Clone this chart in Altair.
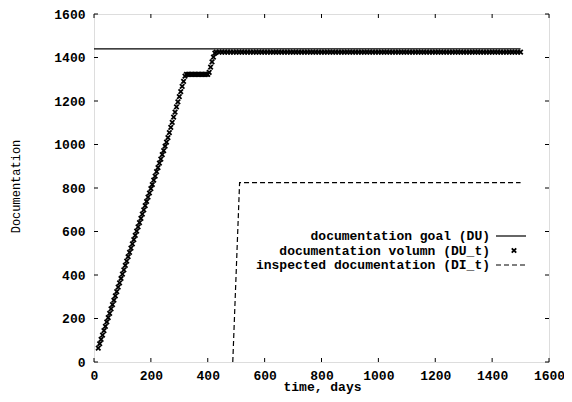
import altair as alt
import pandas as pd

# ---- data ----
goal_days = [0, 1500]
goal_values = [1440, 1440]

du_days = [15, 20, 25, 30, 35, 40, 45, 50, 55, 60, 65, 70, 75, 80, 85, 90, 95, 100,
           105, 110, 115, 120, 125, 130, 135, 140, 145, 150, 155, 160, 165, 170, 175,
           180, 185, 190, 195, 200, 205, 210, 215, 220, 225, 230, 235, 240, 245, 250,
           255, 260, 265, 270, 275, 280, 285, 290, 295, 300, 305, 310, 315, 320,
           325, 330, 335, 340, 345, 350, 355, 360, 365, 370, 375, 380, 385, 390, 395, 400,
           405, 410, 415, 420, 425,
           430, 440, 450, 460, 470, 480, 490, 500, 510, 520, 530, 540, 550, 560, 570,
           580, 590, 600, 610, 620, 630, 640, 650, 660, 670, 680, 690, 700, 710, 720,
           730, 740, 750, 760, 770, 780, 790, 800, 810, 820, 830, 840, 850, 860, 870,
           880, 890, 900, 910, 920, 930, 940, 950, 960, 970, 980, 990, 1000, 1010, 1020,
           1030, 1040, 1050, 1060, 1070, 1080, 1090, 1100, 1110, 1120, 1130, 1140, 1150,
           1160, 1170, 1180, 1190, 1200, 1210, 1220, 1230, 1240, 1250, 1260, 1270, 1280,
           1290, 1300, 1310, 1320, 1330, 1340, 1350, 1360, 1370, 1380, 1390, 1400, 1410,
           1420, 1430, 1440, 1450, 1460, 1470, 1480, 1490, 1500]
du_values = [64, 84, 104, 124, 144, 164, 184, 204, 224, 244, 264, 284, 304, 324, 344, 364, 384, 404,
             424, 444, 464, 484, 504, 524, 543, 563, 582, 602, 621, 641, 660, 680, 699,
             719, 738, 758, 777, 797, 816, 836, 855, 875, 894, 914, 933, 953, 972, 992,
             1011, 1032, 1055, 1079, 1102, 1126, 1149, 1173, 1196, 1220, 1243, 1267, 1290, 1314,
             1322, 1322, 1322, 1322, 1322, 1322, 1322, 1322, 1322, 1322, 1322, 1322, 1322, 1322, 1322, 1322,
             1332, 1356, 1380, 1402, 1420,
             1425, 1425, 1425, 1425, 1425, 1425, 1425, 1425, 1425, 1425, 1425, 1425, 1425, 1425, 1425,
             1425, 1425, 1425, 1425, 1425, 1425, 1425, 1425, 1425, 1425, 1425, 1425, 1425, 1425, 1425,
             1425, 1425, 1425, 1425, 1425, 1425, 1425, 1425, 1425, 1425, 1425, 1425, 1425, 1425, 1425,
             1425, 1425, 1425, 1425, 1425, 1425, 1425, 1425, 1425, 1425, 1425, 1425, 1425, 1425, 1425,
             1425, 1425, 1425, 1425, 1425, 1425, 1425, 1425, 1425, 1425, 1425, 1425, 1425,
             1425, 1425, 1425, 1425, 1425, 1425, 1425, 1425, 1425, 1425, 1425, 1425, 1425,
             1425, 1425, 1425, 1425, 1425, 1425, 1425, 1425, 1425, 1425, 1425, 1425, 1425,
             1425, 1425, 1425, 1425, 1425, 1425, 1425, 1425, 1425]

di_days = [488, 512, 1500]
di_values = [0, 825, 825]

tick_values = [0, 200, 400, 600, 800, 1000, 1200, 1400, 1600]

legend_labels = ["documentation goal (DU)",
                 "documentation volumn (DU_t)",
                 "inspected documentation (DI_t)"]

FONT = "Liberation Mono"
W, H = 455, 348
CROSS = "M-1,-1L1,1M-1,1L1,-1"

xs = alt.Scale(domain=[0, 1600], nice=False)
ys = alt.Scale(domain=[0, 1600], nice=False)

xaxis = alt.Axis(values=tick_values, format="d", title="time, days", labelFont=FONT, labelFontSize=13,
                 labelFontWeight="bold", labelColor="black", labelPadding=7,
                 titleFont=FONT, titleFontSize=13, titleFontWeight="bold", titleColor="black",
                 titleX=228, titleY=28, titleBaseline="alphabetic", titleAlign="center",
                 ticks=False, domain=False, grid=False, labelFlush=False)
yaxis = alt.Axis(values=tick_values, format="d", title="Documentation", labelFont=FONT, labelFontSize=13,
                 labelFontWeight="bold", labelColor="black", labelPadding=9,
                 titleFont=FONT, titleFontSize=12, titleFontWeight="normal", titleColor="black",
                 titleX=-79, titleY=172, titleBaseline="middle", titleAlign="center", titleAngle=270,
                 ticks=False, domain=False, grid=False, labelFlush=False)


def X(field="day"):
    return alt.X(f"{field}:Q", scale=xs, axis=xaxis)


def Y(field="value"):
    return alt.Y(f"{field}:Q", scale=ys, axis=yaxis)


goal_df = pd.DataFrame({"day": goal_days, "value": goal_values})
du_df = pd.DataFrame({"day": du_days, "value": du_values})
di_df = pd.DataFrame({"day": di_days, "value": di_values})
tx_df = pd.DataFrame({"day": tick_values})
ty_df = pd.DataFrame({"value": tick_values})

goal = alt.Chart(goal_df).mark_line(color="black", strokeWidth=1.2).encode(x=X(), y=Y())
di = alt.Chart(di_df).mark_line(color="black", strokeWidth=1.2, strokeDash=[5, 3]).encode(x=X(), y=Y())
du = alt.Chart(du_df).mark_point(shape=CROSS, filled=False, color="black", strokeWidth=1.8,
                                  size=20, opacity=1).encode(x=X(), y=Y())

tb = alt.Chart(tx_df).mark_rule(color="black", strokeWidth=1).encode(x=X(), y=alt.value(H), y2=alt.value(H - 4))
tt = alt.Chart(tx_df).mark_rule(color="black", strokeWidth=1).encode(x=X(), y=alt.value(0), y2=alt.value(4))
tl = alt.Chart(ty_df).mark_rule(color="black", strokeWidth=1).encode(y=Y(), x=alt.value(0), x2=alt.value(4))
tr = alt.Chart(ty_df).mark_rule(color="black", strokeWidth=1).encode(y=Y(), x=alt.value(W), x2=alt.value(W - 4))

leg_rows = [222, 236.5, 251]
legend_layers = []
for lab, yy in zip(legend_labels, leg_rows):
    legend_layers.append(
        alt.Chart(pd.DataFrame({"label": [lab]})).mark_text(
            font=FONT, fontSize=13, fontWeight="bold", align="right", baseline="middle", color="black"
        ).encode(text="label:N", x=alt.value(396), y=alt.value(yy))
    )

leg_goal = alt.Chart(pd.DataFrame({"k": [0]})).mark_rule(color="black", strokeWidth=1.2).encode(
    x=alt.value(402), x2=alt.value(432), y=alt.value(leg_rows[0]))
leg_du = alt.Chart(pd.DataFrame({"k": [0]})).mark_point(shape=CROSS, filled=False, color="black",
                                                         strokeWidth=1.8, size=20, opacity=1).encode(
    x=alt.value(420), y=alt.value(leg_rows[1]))
leg_di = alt.Chart(pd.DataFrame({"k": [0]})).mark_rule(color="black", strokeWidth=1.2, strokeDash=[5, 3]).encode(
    x=alt.value(402), x2=alt.value(432), y=alt.value(leg_rows[2]))

chart = alt.layer(goal, di, du, tb, tt, tl, tr, *legend_layers, leg_goal, leg_du, leg_di).properties(
    width=W, height=H, autosize="none",
    padding={"left": 86, "top": 6, "right": 15, "bottom": 32}
).configure_view(stroke="black", strokeWidth=1.3).configure(background="white")

chart.save("out.html", embed_options={"renderer": "svg", "actions": False})
